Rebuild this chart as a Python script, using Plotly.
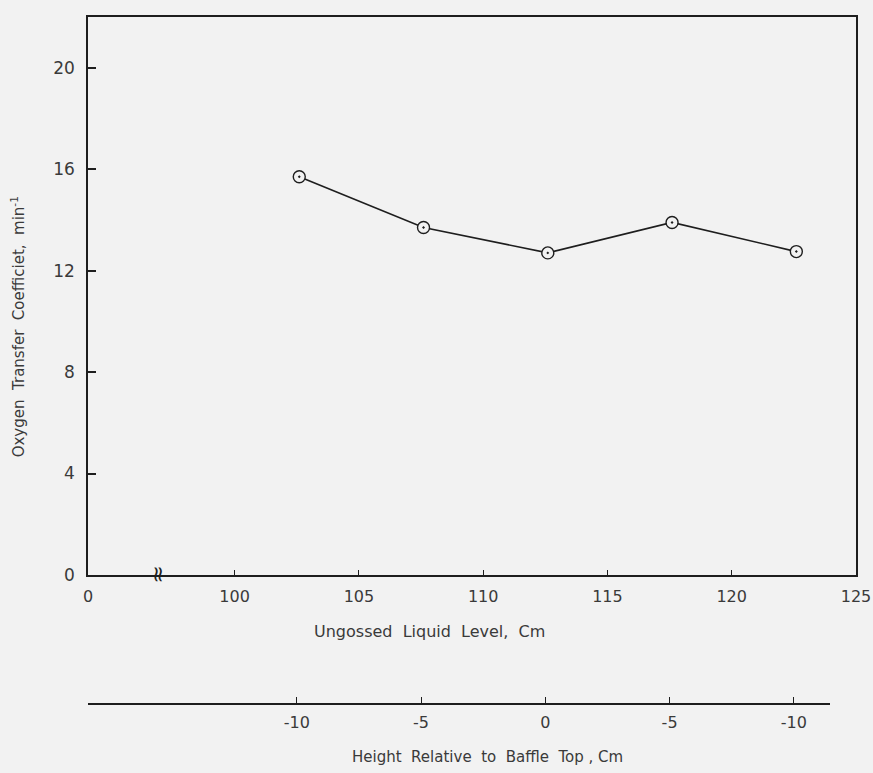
import plotly.graph_objects as go

# Data
liquid_level = [102.6, 107.6, 112.6, 117.6, 122.6]
oxygen_coef = [15.7, 13.7, 12.7, 13.9, 12.75]

x_tick_vals = [94.1, 100, 105, 110, 115, 120, 125]
x_tick_text = ["0", "100", "105", "110", "115", "120", "125"]
y_tick_vals = [0, 4, 8, 12, 16, 20]
lower_tick_pos = [102.5, 107.5, 112.5, 117.5, 122.5]
lower_tick_text = ["-10", "-5", "0", "-5", "-10"]

FONT = "DejaVu Sans"
TXT = "#3a3a3a"
LINE = "#1e1e1e"
BG = "#f2f2f2"

x_lo, x_hi = 94.1, 125.0
x2_frac = 0.966

fig = go.Figure()
fig.add_trace(go.Scatter(
    x=liquid_level, y=oxygen_coef, mode="lines+markers",
    line=dict(color=LINE, width=1.6),
    marker=dict(symbol="circle-dot", size=12, color=BG,
                line=dict(color=LINE, width=1.4)),
    showlegend=False, hoverinfo="x+y",
))
fig.add_trace(go.Scatter(
    x=[lower_tick_pos[0]], y=[0], xaxis="x2", yaxis="y2", mode="markers",
    marker=dict(opacity=0), showlegend=False, hoverinfo="skip",
))

axis_common = dict(showgrid=False, zeroline=False, showline=True,
                   linecolor=LINE, linewidth=1.5, tickcolor=LINE,
                   automargin=False)

fig.update_layout(
    width=873, height=773,
    margin=dict(l=88, r=17, t=17, b=70),
    paper_bgcolor=BG, plot_bgcolor=BG,
    font=dict(family=FONT, color=TXT),
    xaxis=dict(range=[x_lo, x_hi + 0.001], domain=[0, 1], anchor="y",
               tickmode="array", tickvals=x_tick_vals, ticktext=x_tick_text,
               ticks="inside", ticklen=5, tickwidth=1, mirror=True,
               ticklabelstandoff=6, ticklabeloverflow="allow",
               tickfont=dict(family=FONT, size=16, color=TXT), **axis_common),
    yaxis=dict(range=[0, 22], domain=[0.1866, 1], anchor="x",
               tickmode="array", tickvals=y_tick_vals,
               ticks="inside", ticklen=8, tickwidth=1.5, mirror=True,
               ticklabelstandoff=8,
               tickfont=dict(family=FONT, size=17, color=TXT), **axis_common),
    xaxis2=dict(range=[x_lo, x_lo + x2_frac * (x_hi - x_lo)],
                domain=[0, x2_frac], anchor="y2",
                tickmode="array", tickvals=lower_tick_pos,
                ticktext=lower_tick_text,
                ticks="inside", ticklen=6, tickwidth=1,
                ticklabelstandoff=4,
                tickfont=dict(family=FONT, size=16, color=TXT), **axis_common),
    yaxis2=dict(domain=[0, 0.01], range=[0, 1], visible=False, anchor="x2"),
    annotations=[
        dict(text="Ungossed  Liquid  Level,  Cm", xref="paper", yref="paper",
             x=0.445, y=0.1035, xanchor="center", yanchor="middle",
             showarrow=False, font=dict(family=FONT, size=16, color=TXT)),
        dict(text="Height  Relative  to  Baffle  Top , Cm", xref="paper", yref="paper",
             x=0.520, y=-0.0787, xanchor="center", yanchor="middle",
             showarrow=False, font=dict(family=FONT, size=15, color=TXT)),
        dict(text="Oxygen  Transfer  Coefficiet,  min<sup>-1</sup>",
             xref="paper", yref="paper", x=-0.0908, y=0.548,
             xanchor="center", yanchor="middle",
             textangle=-90, showarrow=False,
             font=dict(family=FONT, size=15, color=TXT)),
        dict(text="≈", xref="x", yref="y", x=96.9, y=0, textangle=-90,
             xanchor="center", yanchor="middle",
             showarrow=False, font=dict(family=FONT, size=22, color=LINE)),
    ],
)

fig.write_html("out.html")
